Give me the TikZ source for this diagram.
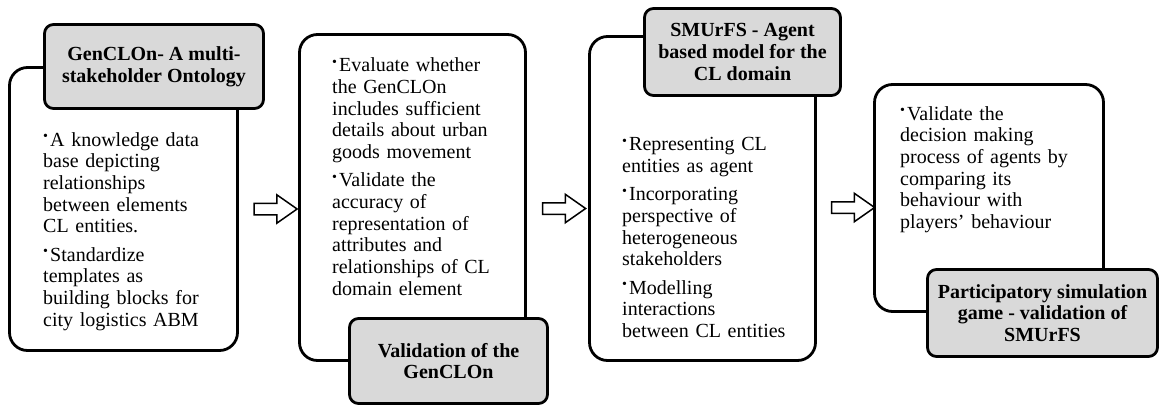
\documentclass[tikz,border=0pt]{standalone}
\usepackage{fontspec}
\setmainfont{Liberation Serif}
\usetikzlibrary{shapes.arrows}

\newcommand{\bitem}{\noindent\hangindent=7pt\hangafter=1\makebox[7pt][l]{\raisebox{5.5pt}{\fontsize{14}{14}\selectfont\textbullet}}}
\newcommand{\nitem}{\par\vspace{6.6pt}\bitem}

\begin{document}
\begin{tikzpicture}[x=1pt,y=-1pt,
    card/.style={draw,line width=2.8pt,rounded corners=18pt,fill=white},
    banner/.style={draw,line width=2.8pt,rounded corners=9pt,fill=gray!30,align=center,
        font=\bfseries\fontsize{20}{21.7}\selectfont},
    notes/.style={anchor=base west,inner sep=0pt,text width=215pt,align=left,
        font=\fontsize{20}{21.7}\selectfont},
    hollow/.style={single arrow,draw,line width=1.5pt,inner sep=5pt,
        single arrow head extend=8.5pt,single arrow tip angle=70,minimum height=43pt}]
            \useasboundingbox (0,0) rectangle (1161,407);
            % panels
            \node[card,minimum width=228pt,minimum height=283pt] (card1) at (123.5,209) {};
            \node[card,minimum width=226pt,minimum height=326pt] (card2) at (412.5,197.5) {};
            \node[card,minimum width=226pt,minimum height=324pt] (card3) at (702.5,198.5) {};
            \node[card,minimum width=229pt,minimum height=227pt] (card4) at (989,198) {};
            % bullet texts
            \node[notes] (notes1) at (43,146) {\bitem A knowledge data\\ base depicting\\ relationships\\ between elements\\ CL entities.
                \nitem Standardize\\ templates as\\ building blocks for\\ city logistics ABM};
            \node[notes] (notes2) at (332,71.7) {\bitem Evaluate whether\\ the GenCLOn\\ includes sufficient\\ details about urban\\ goods movement
                \nitem Validate the\\ accuracy of\\ representation of\\ attributes and\\ relationships of CL\\ domain element};
            \node[notes] (notes3) at (622,150.7) {\bitem Representing CL\\ entities as agent
                \nitem Incorporating\\ perspective of\\ heterogeneous\\ stakeholders
                \nitem Modelling\\ interactions\\ between CL entities};
            \node[notes] (notes4) at (900,120) {\bitem Validate the\\ decision making\\ process of agents by\\ comparing its\\ behaviour with\\ players’ behaviour};
            % titles
            \node[banner,minimum width=219pt,minimum height=84pt] (head1) at (154,66.5) {GenCLOn- A multi-\\stakeholder Ontology};
            \node[banner,minimum width=198pt,minimum height=85pt] (head2) at (448.5,361) {Validation of the\\GenCLOn};
            \node[banner,minimum width=196pt,minimum height=87pt] (head3) at (742.5,52) {SMUrFS - Agent\\based model for the\\CL domain};
            \node[banner,minimum width=230pt,minimum height=87pt] (head4) at (1042.5,313) {Participatory simulation\\game - validation of\\SMUrFS};
            % arrows between stages
            \node[hollow] (arr1) at (271.5,209) {};
            \node[hollow] (arr2) at (560,208.5) {};
            \node[hollow] (arr3) at (849,207.5) {};
        \end{tikzpicture}
\end{document}
